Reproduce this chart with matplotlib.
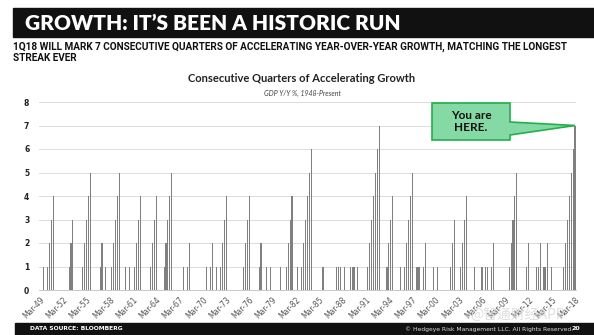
import matplotlib

matplotlib.use("Agg")
import matplotlib.pyplot as plt
from matplotlib.patches import Polygon, Rectangle

# consecutive quarters of accelerating Y/Y GDP growth, Mar-49 .. Mar-18 (one row = 3 years)
streak = [
    0, 0, 1, 0, 1, 2, 3, 4, 0, 0, 0, 0,
    0, 0, 0, 1, 2, 3, 0, 0, 0, 0, 1, 2,
    3, 4, 5, 0, 0, 0, 0, 1, 2, 0, 1, 0,
    0, 1, 2, 3, 4, 5, 0, 0, 1, 0, 1, 0,
    0, 1, 2, 3, 4, 0, 0, 0, 0, 1, 2, 3,
    4, 0, 0, 0, 1, 2, 3, 4, 5, 0, 0, 0,
    0, 0, 1, 0, 1, 2, 0, 0, 0, 0, 0, 0,
    0, 0, 1, 0, 1, 2, 0, 1, 0, 1, 2, 3,
    4, 0, 0, 0, 0, 0, 0, 0, 0, 1, 2, 3,
    4, 0, 0, 0, 0, 1, 2, 0, 0, 1, 0, 1,
    0, 0, 0, 0, 1, 0, 0, 1, 2, 3, 4, 0,
    0, 1, 0, 1, 2, 3, 4, 5, 6, 0, 0, 0,
    0, 0, 1, 0, 0, 0, 0, 0, 0, 1, 1, 1,
    0, 1, 0, 0, 1, 1, 1, 0, 1, 0, 0, 0,
    0, 1, 2, 3, 4, 5, 6, 7, 0, 0, 0, 1,
    2, 3, 4, 0, 0, 0, 1, 0, 1, 2, 3, 4,
    5, 0, 1, 1, 1, 0, 1, 2, 0, 0, 0, 1,
    0, 1, 0, 0, 0, 0, 0, 0, 1, 2, 3, 0,
    0, 1, 2, 3, 4, 0, 0, 0, 1, 0, 0, 0,
    1, 0, 1, 1, 0, 1, 2, 0, 0, 0, 0, 0,
    0, 0, 1, 2, 3, 4, 5, 0, 0, 0, 0, 1,
    2, 0, 0, 0, 1, 1, 2, 0, 1, 1, 2, 0,
    1, 0, 0, 0, 0, 0, 1, 2, 3, 4, 5, 6,
    7,
]
tick_labels = [
    "Mar-49", "Mar-52", "Mar-55", "Mar-58", "Mar-61", "Mar-64", "Mar-67", "Mar-70",
    "Mar-73", "Mar-76", "Mar-79", "Mar-82", "Mar-85", "Mar-88", "Mar-91", "Mar-94",
    "Mar-97", "Mar-00", "Mar-03", "Mar-06", "Mar-09", "Mar-12", "Mar-15", "Mar-18",
]
y_ticks = [0, 1, 2, 3, 4, 5, 6, 7, 8]

W, H = 594, 335


def fx(x):
    return x / W


def fy(y):
    return 1 - y / H


fig = plt.figure(figsize=(W / 100, H / 100), dpi=100)

# header banner
fig.patches.append(Rectangle((fx(13), fy(37)), fx(W) - fx(13), fy(8) - fy(37),
                             transform=fig.transFigure, color="#111111", zorder=0))
fig.text(fx(25), fy(23), "GROWTH: IT\u2019S BEEN A HISTORIC RUN", color="white",
         fontsize=15, fontweight="heavy", family="Lato", va="center", ha="left")
fig.text(fx(13), fy(47), "1Q18 WILL MARK 7 CONSECUTIVE QUARTERS OF ACCELERATING YEAR-OVER-YEAR GROWTH, MATCHING THE LONGEST",
         fontsize=7.2, fontweight="bold", family="Roboto", va="center", ha="left", color="#111111")
fig.text(fx(13), fy(58), "STREAK EVER",
         fontsize=7.2, fontweight="bold", family="Roboto", va="center", ha="left", color="#111111")

fig.text(fx(302), fy(79), "Consecutive Quarters of Accelerating Growth", fontsize=8,
         fontweight="bold", family="Lato", ha="center", va="center", color="#222222")
fig.text(fx(302), fy(93), "GDP Y/Y %, 1948-Present", fontsize=5, style="italic",
         family="Lato", ha="center", va="center", color="#444444")

ax = fig.add_axes([fx(39), fy(290), fx(576) - fx(39), fy(102) - fy(290)])
x = list(range(len(streak)))
ax.bar(x, streak, width=0.55, color="#808080", linewidth=0, zorder=3)
ax.set_xlim(-0.5, len(streak) - 0.5)
ax.set_ylim(0, 8)
ax.set_yticks(y_ticks)
ax.set_yticklabels([str(v) for v in y_ticks], fontsize=5.5, fontweight="bold", color="#222222")
ax.set_xticks(x[::12])
ax.set_xticklabels(tick_labels, rotation=45, ha="right", rotation_mode="anchor",
                   fontsize=5.5, color="#555555")
ax.tick_params(axis="y", length=0, pad=7)
ax.tick_params(axis="x", length=0, pad=4)
ax.grid(axis="y", color="#dcdcdc", linewidth=0.7, zorder=0)
for side in ["left", "right", "top"]:
    ax.spines[side].set_visible(False)
ax.spines["bottom"].set_color("#c8c8c8")
ax.spines["bottom"].set_linewidth(0.7)

# "You are HERE." callout pointing at the latest bar
tip_disp = ax.transData.transform((len(streak) - 1, streak[-1]))
tip = fig.transFigure.inverted().transform(tip_disp)
callout = [
    (fx(432), fy(103)), (fx(510), fy(103)), (fx(510), fy(122)), tuple(tip),
    (fx(510), fy(135)), (fx(510), fy(140)), (fx(432), fy(140)),
]
fig.patches.append(Polygon(callout, closed=True, transform=fig.transFigure,
                           facecolor="#84d9a4", edgecolor="#22b04b", linewidth=1.2, zorder=5))
fig.text(fx(471), fy(121.5), "You are\nHERE.", fontsize=8.5, fontweight="bold", family="Lato",
         ha="center", va="center", linespacing=1.15, color="#111111", zorder=6)

# watermark
fig.text(fx(470), fy(315), "@智通财经APP", fontsize=10, color="#d8d8d8", alpha=0.8,
         family=["Noto Sans CJK SC", "DejaVu Sans"], ha="left", va="center", zorder=7)

# footer banner
fig.patches.append(Rectangle((fx(15), 0), fx(W) - fx(15), fy(323),
                             transform=fig.transFigure, color="#111111", zorder=0))
fig.text(fx(30), fy(329), "DATA SOURCE: BLOOMBERG", fontsize=4.3, fontweight="bold",
         color="white", ha="left", va="center")
fig.text(fx(405), fy(329), "\u00a9 Hedgeye Risk Management LLC. All Rights Reserved.",
         fontsize=4.3, color="#dddddd", ha="left", va="center")
fig.text(fx(572), fy(329), "20", fontsize=4.5, fontweight="bold", color="white",
         ha="left", va="center")

fig.savefig("out.png", dpi=100)
